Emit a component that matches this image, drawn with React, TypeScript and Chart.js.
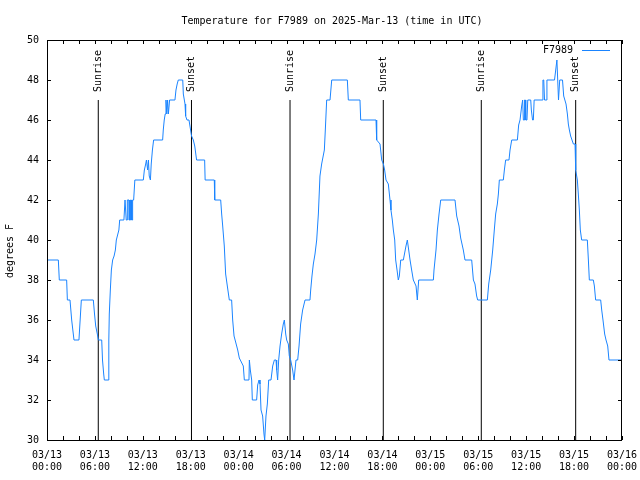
import React, { useEffect, useRef } from "react";
import { Chart, registerables } from "chart.js";

Chart.register(...registerables);

const TITLE = "Temperature for F7989 on 2025-Mar-13 (time in UTC)";
const SERIES_LABEL = "F7989";
const Y_LABEL = "degrees F";
const LINE_COLOR = "#1a84ff";
const FONT = "'DejaVu Sans Mono', monospace";

// hours since 2025-03-13 00:00 UTC
const hours = [
  0, 1.42, 1.54, 2.46, 2.55, 2.88, 3.09, 3.38, 4.0, 4.15, 4.3, 5.8, 5.95, 6.1, 6.3, 6.43, 6.85, 6.95, 7.1, 7.18,
  7.64, 7.72, 7.76, 7.8, 7.93, 8.06, 8.22, 8.4, 8.56, 8.68, 9.0, 9.1, 9.63, 9.77, 9.89, 9.92, 10.02, 10.06, 10.27, 10.3,
  10.43, 10.46, 10.56, 10.6, 10.68, 10.72, 10.85, 11.0, 12.06, 12.19, 12.36, 12.45, 12.6, 12.7, 12.8, 12.95, 13.05, 13.2, 13.35, 14.48,
  14.56, 14.68, 14.8, 14.9, 15.0, 15.1, 15.2, 15.35, 16.02, 16.15, 16.3, 16.44, 17.0, 17.07, 17.28, 17.36, 17.53, 17.78, 17.9, 18.1,
  18.32, 18.5, 18.73, 19.74, 19.8, 20.95, 21.0, 21.75, 21.87, 22.0, 22.2, 22.37, 22.58, 22.83, 23.12, 23.25, 23.42, 23.62, 23.88, 24.08,
  24.58, 24.71, 25.29, 25.34, 25.46, 25.63, 25.71, 26.25, 26.38, 26.55, 26.67, 26.8, 27.0, 27.17, 27.26, 27.42, 27.59, 27.76, 28.05, 28.26,
  28.47, 28.68, 28.76, 28.88, 29.01, 29.18, 29.38, 29.59, 29.72, 29.89, 30.01, 30.22, 30.34, 30.51, 30.76, 30.93, 31.18, 31.39, 31.56, 31.76,
  32.01, 32.31, 32.93, 33.02, 33.18, 33.35, 33.56, 33.77, 33.98, 34.18, 34.39, 34.73, 34.85, 35.02, 35.44, 35.65, 37.61, 37.73, 39.19, 39.28,
  41.2, 41.28, 41.7, 41.91, 42.12, 42.28, 42.45, 42.74, 42.95, 43.07, 43.24, 43.37, 43.54, 43.66, 43.83, 43.99, 44.12, 44.29, 44.62, 44.95,
  45.12, 45.29, 45.46, 45.66, 45.87, 46.21, 46.37, 46.54, 48.38, 48.46, 48.71, 48.88, 49.09, 49.3, 51.09, 51.3, 51.59, 51.8, 52.13, 52.34,
  53.18, 53.39, 53.59, 53.8, 53.93, 55.14, 55.31, 55.56, 55.81, 56.01, 56.18, 56.39, 56.52, 56.64, 57.14, 57.27, 57.43, 57.85, 57.98, 58.19,
  58.9, 59.06, 59.23, 59.44, 59.56, 59.65, 59.75, 59.8, 59.9, 59.95, 60.1, 60.2, 60.57, 60.65, 60.8, 60.9, 61.0, 62.0, 62.1, 62.2,
  62.3, 62.5, 62.6, 63.55, 63.7, 63.85, 63.95, 64.05, 64.2, 64.55, 64.7, 64.99, 65.16, 65.28, 65.41, 65.57, 65.91, 66.12, 66.2, 66.41,
  66.53, 66.66, 66.78, 66.95, 67.66, 67.79, 67.91, 68.41, 68.54, 68.7, 69.33, 69.46, 69.62, 69.83, 70.0, 70.21, 70.37, 72,
];

const temps = [
  39, 39, 38, 38, 37, 37, 36, 35, 35, 36, 37, 37, 36.3, 35.7, 35.3, 35, 35, 34, 33.3, 33,
  33, 34.3, 35, 36.3, 37.5, 38.5, 39, 39.2, 39.5, 40, 40.5, 41, 41, 42, 42, 41, 41, 42, 42, 41,
  41, 42, 42, 41, 41, 42, 42, 43, 43, 43.5, 43.8, 44, 43.5, 44, 43.2, 43, 43.8, 44.5, 45, 45,
  45.5, 46, 46.3, 47, 46.3, 47, 46.3, 47, 47, 47.5, 47.8, 48, 48, 47.3, 46.8, 46.2, 46, 46, 45.7, 45.2,
  45, 44.7, 44, 44, 43, 43, 42, 42, 41.3, 40.7, 39.7, 38.3, 37.7, 37, 37, 36, 35.2, 34.9, 34.5, 34.1,
  33.7, 33, 33, 34, 33.5, 33, 32, 32, 32.75, 33, 32.8, 31.5, 31.2, 30.3, 30, 31.2, 31.8, 33, 33, 33.7,
  34, 34, 33.5, 33, 34, 34.7, 35.3, 35.8, 36, 35.3, 35, 34.8, 34.2, 34, 33.5, 33, 34, 34, 34.7, 35.8,
  36.5, 37, 37, 37.5, 38.2, 38.8, 39.3, 40, 41.3, 43.2, 43.8, 44.5, 45.5, 47, 47, 48, 48, 47, 47, 46,
  46, 45, 44.8, 44, 43.8, 43.5, 43, 42.8, 42, 41.5, 41, 40.5, 40, 39, 38.5, 38, 38.2, 39, 39, 39.7,
  40, 39.5, 39, 38.5, 38, 37.7, 37, 38, 38, 38.5, 39.5, 40.5, 41.3, 42, 42, 41.2, 40.7, 40.1, 39.5, 39,
  39, 38, 37.8, 37.2, 37, 37, 37.8, 38.5, 39.5, 40.5, 41.3, 41.8, 42.3, 43, 43, 43.5, 44, 44, 44.5, 45,
  45, 45.75, 46, 46.7, 47, 46, 46, 47, 47, 46, 46, 47, 47, 46.5, 46, 46, 47, 47, 48, 48,
  47, 47, 48, 48, 48.5, 49, 48, 47, 48, 48, 47.2, 46.8, 46.3, 45.8, 45.5, 45.2, 44.8, 44.8, 43.5, 43,
  42.3, 41.5, 40.5, 40, 40, 39, 38, 38, 37.7, 37, 37, 36.5, 36, 35.3, 35, 34.7, 34, 34,
];

const sunHours = [6.42, 18.09, 30.43, 42.11, 54.38, 66.2];
const sunLabels = ["Sunrise", "Sunset", "Sunrise", "Sunset", "Sunrise", "Sunset"];
const SUN_LINE_BOTTOM = 30;
const SUN_LINE_TOP = 47;

const xTickDates = ["03/13", "03/13", "03/13", "03/13", "03/14", "03/14", "03/14", "03/14", "03/15", "03/15", "03/15", "03/15", "03/16"];
const xTickTimes = ["00:00", "06:00", "12:00", "18:00", "00:00", "06:00", "12:00", "18:00", "00:00", "06:00", "12:00", "18:00", "00:00"];
const X_MIN = 0;
const X_MAX = 72;
const X_LABEL_STEP = 6;
const X_MINOR_STEP = 2;
const Y_MIN = 30;
const Y_MAX = 50;
const Y_STEP = 2;

const gnuplotDecor = {
  id: "gnuplotDecor",
  afterDraw(chart: any) {
    const ctx = chart.ctx;
    const { left, right, top, bottom } = chart.chartArea;
    const xs = chart.scales.x;
    const ys = chart.scales.y;
    ctx.save();
    ctx.strokeStyle = "#000";
    ctx.lineWidth = 1;
    // frame
    ctx.strokeRect(Math.round(left) + 0.5, Math.round(top) + 0.5, Math.round(right - left) - 1, Math.round(bottom - top));
    // ticks (inward, mirrored)
    ctx.beginPath();
    for (let v = X_MIN; v <= X_MAX; v += X_MINOR_STEP) {
      const px = Math.round(xs.getPixelForValue(v)) + 0.5;
      ctx.moveTo(px, bottom);
      ctx.lineTo(px, bottom - 4);
      ctx.moveTo(px, top);
      ctx.lineTo(px, top + 4);
    }
    for (let v = Y_MIN; v <= Y_MAX; v += Y_STEP) {
      const py = Math.round(ys.getPixelForValue(v)) + 0.5;
      ctx.moveTo(left, py);
      ctx.lineTo(left + 4, py);
      ctx.moveTo(right, py);
      ctx.lineTo(right - 4, py);
    }
    ctx.stroke();

    ctx.fillStyle = "#000";
    ctx.font = `10px ${FONT}`;
    // sun labels
    const labelBase = ys.getPixelForValue(SUN_LINE_TOP) - 8;
    sunHours.forEach((h, i) => {
      const px = xs.getPixelForValue(h);
      ctx.save();
      ctx.translate(px, labelBase);
      ctx.rotate(-Math.PI / 2);
      ctx.textAlign = "left";
      ctx.textBaseline = "middle";
      ctx.fillText(sunLabels[i], 0, 0);
      ctx.restore();
    });

    // title
    ctx.textAlign = "center";
    ctx.textBaseline = "alphabetic";
    ctx.fillText(TITLE, 332, 24);

    // y label
    ctx.save();
    ctx.translate(10, 251);
    ctx.rotate(-Math.PI / 2);
    ctx.textAlign = "center";
    ctx.textBaseline = "middle";
    ctx.fillText(Y_LABEL, 0, 0);
    ctx.restore();

    // legend
    ctx.textAlign = "right";
    ctx.textBaseline = "middle";
    ctx.fillText(SERIES_LABEL, 573, 50);
    ctx.strokeStyle = LINE_COLOR;
    ctx.beginPath();
    ctx.moveTo(582, 50.5);
    ctx.lineTo(610, 50.5);
    ctx.stroke();
    ctx.restore();
  },
};

export default function App() {
  const ref = useRef<HTMLCanvasElement | null>(null);

  useEffect(() => {
    if (!ref.current) return;
    const tempData = hours.map((h, i) => ({ x: h, y: temps[i] }));
    const sunSets = sunHours.map((h, i) => ({
      label: sunLabels[i],
      data: [
        { x: h, y: SUN_LINE_BOTTOM },
        { x: h, y: SUN_LINE_TOP },
      ],
      borderColor: "#000",
      borderWidth: 1,
      pointRadius: 0,
      fill: false,
    }));
    const chart = new Chart(ref.current, {
      type: "line",
      data: {
        datasets: [
          {
            label: SERIES_LABEL,
            data: tempData,
            borderColor: LINE_COLOR,
            borderWidth: 1,
            pointRadius: 0,
            tension: 0,
            fill: false,
          },
          ...sunSets,
        ],
      },
      plugins: [gnuplotDecor],
      options: {
        animation: false,
        responsive: false,
        maintainAspectRatio: false,
        layout: { padding: { top: 40, right: 18, left: 0, bottom: 0 } },
        plugins: {
          legend: { display: false },
          title: { display: false },
          tooltip: { enabled: false },
        },
        scales: {
          x: {
            type: "linear",
            min: X_MIN,
            max: X_MAX,
            grid: { display: false, drawTicks: false },
            border: { display: false },
            afterFit: (s: any) => {
              s.height = 40;
              s.paddingLeft = 0;
              s.paddingRight = 0;
            },
            ticks: {
              stepSize: X_LABEL_STEP,
              autoSkip: false,
              maxRotation: 0,
              minRotation: 0,
              padding: 9,
              color: "#000",
              font: { family: FONT, size: 10, lineHeight: 1.2 },
              callback: (v: any) => {
                const i = Math.round(Number(v) / X_LABEL_STEP);
                return [xTickDates[i], xTickTimes[i]];
              },
            },
          },
          y: {
            type: "linear",
            min: Y_MIN,
            max: Y_MAX,
            grid: { display: false, drawTicks: false },
            border: { display: false },
            afterFit: (s: any) => {
              s.width = 47;
              s.paddingTop = 0;
              s.paddingBottom = 0;
            },
            ticks: {
              stepSize: Y_STEP,
              padding: 8,
              color: "#000",
              font: { family: FONT, size: 10 },
              callback: (v: any) => String(v),
            },
          },
        },
      },
    });
    return () => chart.destroy();
  }, []);

  return (
    <div style={{ position: "absolute", left: 0, top: 0, width: 640, height: 480, background: "#fff" }}>
      <canvas ref={ref} width={640} height={480} />
    </div>
  );
}
